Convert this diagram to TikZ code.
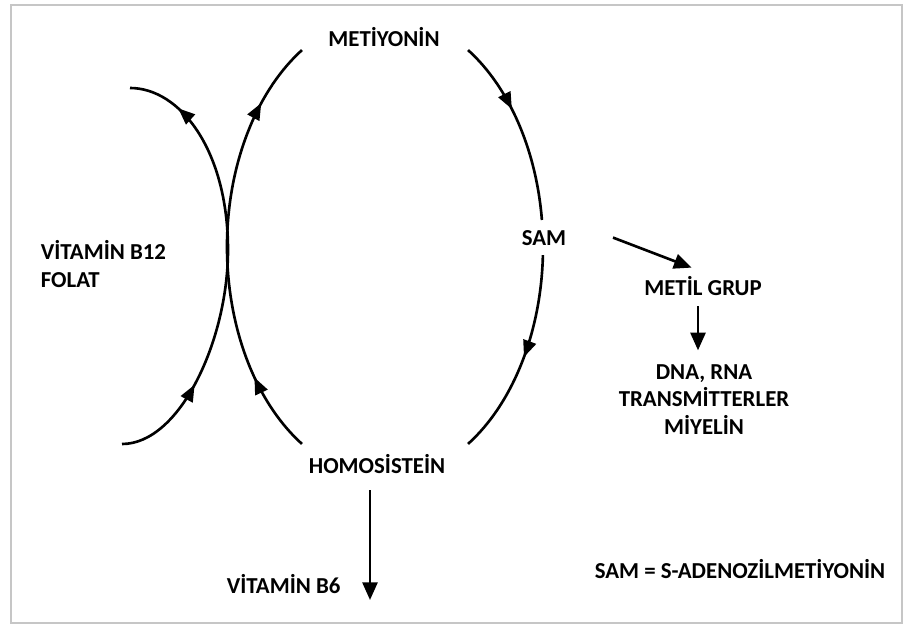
\documentclass[tikz,border=0pt]{standalone}
\usepackage{fontspec}
\setmainfont{Carlito}
\usetikzlibrary{arrows.meta,decorations.markings}

\tikzset{
  lbl/.style={font=\bfseries\fontsize{13}{15.5}\selectfont, inner sep=2pt},
  cyc/.style={line width=1.5pt},
  flow/.style={line width=1.5pt, -{Triangle[length=10pt,width=8.5pt]}},
  onearr/.style={postaction={decorate}, decoration={markings,
    mark=at position #1 with {\arrow{Triangle[length=9.5pt,width=7.5pt]}}}},
  twoarr/.style 2 args={postaction={decorate}, decoration={markings,
    mark=at position #1 with {\arrow{Triangle[length=9.5pt,width=7.5pt]}},
    mark=at position #2 with {\arrow{Triangle[length=9.5pt,width=7.5pt]}}}},
  ring/.style={x radius=158, y radius=231.5},
}

\begin{document}
\begin{tikzpicture}[x=0.02cm, y=-0.02cm]

\useasboundingbox (0,0) rectangle (903,625);
\draw[gray!45, line width=1.2pt] (11,5) rectangle (902,623);

\coordinate (c) at (385,247);

\node[lbl, anchor=base] (met) at (384,47) {METİYONİN};
\node[lbl, anchor=base] (sam) at (544,245) {SAM};
\node[lbl, anchor=base] (metil) at (703,295) {METİL GRUP};
\node[lbl, anchor=base, align=center] (dna) at (704,434) {DNA, RNA\\TRANSMİTTERLER\\MİYELİN};
\node[lbl, anchor=base] (homo) at (377,473) {HOMOSİSTEİN};
\node[lbl, anchor=base west, align=left] (b12) at (37,287) {VİTAMİN B12\\FOLAT};
\node[lbl, anchor=base west] (b6) at (223,593) {VİTAMİN B6};
\node[lbl, anchor=base] (note) at (740,578) {SAM = S-ADENOZİLMETİYONİN};

\draw[cyc, twoarr={0.19}{0.845}] (c) ++(121.7:158 and 231.5) arc[ring, start angle=121.7, end angle=238.3];
\draw[cyc, onearr=0.39] (c) ++(-58.3:158 and 231.5) arc[ring, start angle=-58.3, end angle=-6.7];
\draw[cyc, onearr=0.5] (c) ++(2:158 and 231.5) arc[ring, start angle=2, end angle=58.3];

\draw[cyc, twoarr={0.22}{0.88}] (122,444) .. controls (180,444) and (228,340) .. (228,250)
  .. controls (228,150) and (180,88) .. (130,88);

\draw[flow, shorten >=7pt] ([xshift=0.86cm]sam.east) -- (metil.north);
\draw[flow, shorten <=4pt, shorten >=6pt] ([xshift=-0.1cm]metil.south) -- ([xshift=-0.1cm]metil.south |- dna.north);
\coordinate (drop) at (370,600);
\draw[flow, shorten <=7.5pt] (homo.south -| drop) -- (drop);

\end{tikzpicture}
\end{document}
